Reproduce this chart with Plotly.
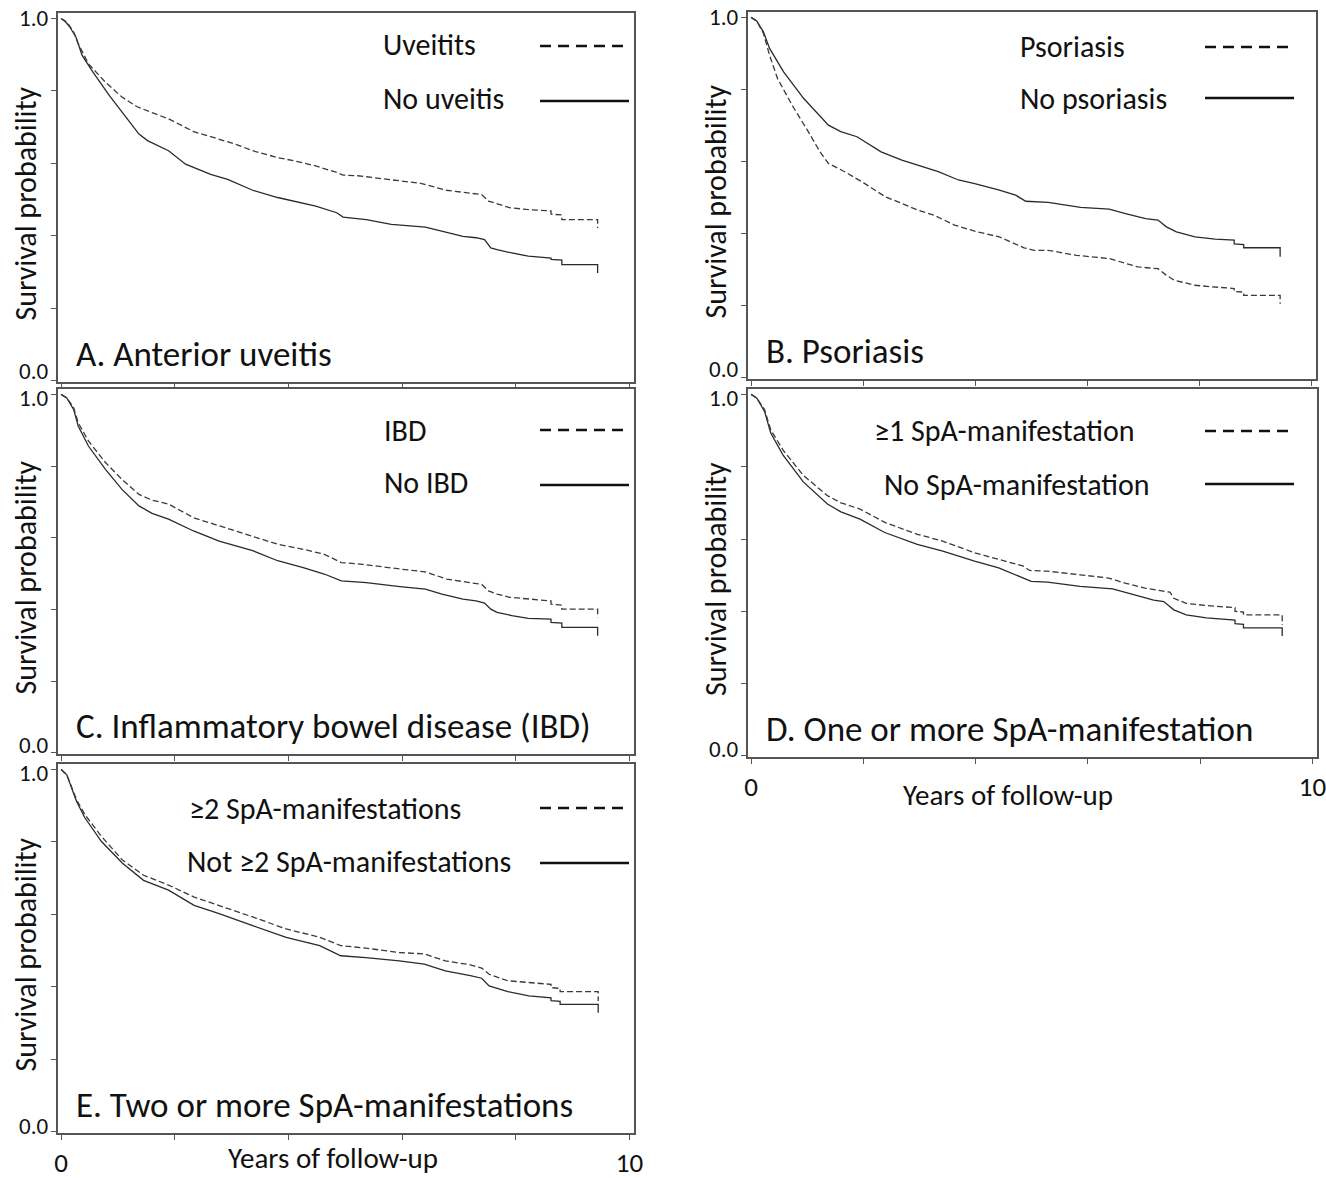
import plotly.graph_objects as go

# ---------------- data (years, survival probability) ----------------
# A. Anterior uveitis
a_uv_t = [0, 0.1, 0.22, 0.30, 0.48, 0.78, 1.07, 1.33, 1.6, 1.89, 2.33, 2.70, 3.07, 3.37, 3.81, 4.11, 4.48, 4.85, 4.96, 5.22,
          5.96, 6.33, 6.78, 7.22, 7.40, 7.52, 7.67, 7.89, 8.19, 8.62, 8.62, 8.81, 8.81, 9.44, 9.44]
a_uv_s = [1.0, 0.99, 0.963, 0.931, 0.875, 0.824, 0.783, 0.757, 0.74, 0.723, 0.688, 0.670, 0.653, 0.635, 0.616, 0.607, 0.593, 0.575, 0.568, 0.566,
          0.552, 0.545, 0.526, 0.518, 0.514, 0.496, 0.489, 0.478, 0.473, 0.469, 0.460, 0.458, 0.445, 0.445, 0.422]
a_no_t = [0, 0.08, 0.15, 0.26, 0.37, 0.56, 0.85, 1.15, 1.37, 1.52, 1.89, 2.19, 2.63, 2.93, 3.37, 3.81, 4.11, 4.48, 4.85, 4.96,
          5.37, 5.81, 6.41, 6.70, 7.07, 7.30, 7.45, 7.56, 7.67, 7.93, 8.22, 8.62, 8.62, 8.81, 8.81, 9.44, 9.44]
a_no_s = [1.0, 0.99, 0.977, 0.949, 0.898, 0.852, 0.787, 0.727, 0.681, 0.663, 0.635, 0.598, 0.570, 0.556, 0.526, 0.506, 0.496, 0.482, 0.464, 0.452,
          0.445, 0.432, 0.424, 0.413, 0.399, 0.395, 0.390, 0.367, 0.362, 0.353, 0.344, 0.339, 0.335, 0.333, 0.321, 0.321, 0.298]

# B. Psoriasis
b_ps_t = [0, 0.1, 0.22, 0.33, 0.47, 0.73, 1.02, 1.23, 1.38, 1.67, 2.03, 2.40, 2.69, 2.98, 3.27, 3.63, 3.99, 4.43, 4.87, 5.05,
          5.30, 5.81, 6.39, 6.68, 6.90, 7.26, 7.41, 7.55, 7.92, 8.21, 8.62, 8.62, 8.79, 8.79, 9.44, 9.44]
b_ps_s = [1.0, 0.99, 0.956, 0.895, 0.831, 0.757, 0.683, 0.627, 0.595, 0.572, 0.539, 0.502, 0.484, 0.465, 0.451, 0.424, 0.407, 0.391, 0.361, 0.354,
          0.354, 0.340, 0.331, 0.317, 0.308, 0.303, 0.285, 0.271, 0.257, 0.253, 0.248, 0.240, 0.238, 0.229, 0.229, 0.206]
b_no_t = [0, 0.1, 0.22, 0.33, 0.58, 0.94, 1.38, 1.60, 1.89, 2.32, 2.69, 2.98, 3.34, 3.70, 3.99, 4.43, 4.72, 4.90, 5.30, 5.88,
          6.39, 6.68, 7.04, 7.26, 7.41, 7.59, 7.92, 8.28, 8.62, 8.62, 8.79, 8.79, 9.44, 9.44]
b_no_s = [1.0, 0.99, 0.960, 0.914, 0.849, 0.775, 0.701, 0.683, 0.669, 0.627, 0.604, 0.590, 0.572, 0.549, 0.539, 0.521, 0.507, 0.490, 0.487, 0.473,
          0.468, 0.456, 0.442, 0.438, 0.419, 0.405, 0.391, 0.385, 0.382, 0.372, 0.370, 0.361, 0.361, 0.336]

# C. Inflammatory bowel disease
c_ibd_t = [0, 0.1, 0.22, 0.30, 0.48, 0.78, 1.07, 1.37, 1.6, 1.89, 2.33, 2.78, 3.37, 3.81, 4.26, 4.63, 4.93, 5.30, 5.96, 6.41,
           6.78, 7.22, 7.40, 7.52, 7.67, 7.89, 8.26, 8.62, 8.62, 8.81, 8.81, 9.44, 9.44]
c_ibd_s = [1.0, 0.99, 0.963, 0.921, 0.870, 0.810, 0.763, 0.721, 0.705, 0.694, 0.656, 0.633, 0.605, 0.582, 0.568, 0.554, 0.531, 0.526, 0.513, 0.505,
           0.485, 0.475, 0.470, 0.452, 0.443, 0.434, 0.429, 0.424, 0.415, 0.412, 0.401, 0.401, 0.378]
c_no_t = [0, 0.1, 0.22, 0.30, 0.48, 0.78, 1.07, 1.37, 1.6, 1.89, 2.33, 2.78, 3.37, 3.81, 4.26, 4.63, 4.93, 5.37, 5.96, 6.41,
          6.70, 7.07, 7.30, 7.45, 7.56, 7.67, 7.93, 8.22, 8.62, 8.62, 8.81, 8.81, 9.44, 9.44]
c_no_s = [1.0, 0.99, 0.958, 0.912, 0.856, 0.791, 0.735, 0.689, 0.668, 0.652, 0.619, 0.591, 0.564, 0.536, 0.517, 0.499, 0.480, 0.475, 0.464, 0.457,
          0.443, 0.429, 0.424, 0.418, 0.401, 0.392, 0.383, 0.375, 0.373, 0.364, 0.362, 0.350, 0.350, 0.327]

# D. One or more SpA-manifestation
d_one_t = [0, 0.1, 0.24, 0.35, 0.57, 0.93, 1.36, 1.6, 1.94, 2.38, 2.96, 3.40, 3.98, 4.41, 4.85, 4.96, 5.28, 5.86, 6.37, 6.66,
           7.02, 7.46, 7.53, 7.75, 8.11, 8.62, 8.62, 8.77, 8.77, 9.46, 9.46]
d_one_s = [1.0, 0.99, 0.958, 0.902, 0.846, 0.776, 0.720, 0.700, 0.683, 0.646, 0.613, 0.595, 0.562, 0.543, 0.525, 0.513, 0.511, 0.501, 0.492, 0.478,
           0.464, 0.453, 0.436, 0.422, 0.416, 0.410, 0.400, 0.398, 0.390, 0.390, 0.362]
d_no_t = [0, 0.1, 0.24, 0.35, 0.57, 0.93, 1.36, 1.6, 1.94, 2.38, 2.96, 3.40, 3.98, 4.41, 4.85, 4.99, 5.28, 5.86, 6.44, 6.73,
          7.17, 7.35, 7.53, 7.75, 8.11, 8.62, 8.62, 8.77, 8.77, 9.46, 9.46]
d_no_s = [1.0, 0.99, 0.953, 0.893, 0.832, 0.758, 0.697, 0.675, 0.655, 0.618, 0.585, 0.567, 0.539, 0.520, 0.492, 0.483, 0.481, 0.469, 0.462, 0.450,
          0.431, 0.427, 0.404, 0.390, 0.382, 0.376, 0.366, 0.364, 0.354, 0.354, 0.332]

# E. Two or more SpA-manifestations
e_two_t = [0, 0.1, 0.27, 0.42, 0.71, 1.08, 1.45, 1.89, 2.34, 2.78, 3.37, 3.96, 4.55, 4.92, 5.36, 5.95, 6.39, 6.76, 7.20, 7.40,
           7.53, 7.86, 8.23, 8.62, 8.62, 8.78, 8.78, 9.45, 9.45]
e_two_s = [1.0, 0.985, 0.917, 0.875, 0.815, 0.750, 0.708, 0.681, 0.648, 0.625, 0.593, 0.560, 0.537, 0.514, 0.507, 0.495, 0.491, 0.472, 0.461, 0.452,
           0.435, 0.417, 0.412, 0.407, 0.398, 0.396, 0.387, 0.387, 0.361]
e_no_t = [0, 0.1, 0.27, 0.42, 0.71, 1.08, 1.45, 1.89, 2.34, 2.78, 3.37, 3.96, 4.55, 4.92, 5.36, 5.95, 6.39, 6.76, 7.20, 7.40,
          7.53, 7.86, 8.23, 8.62, 8.62, 8.78, 8.78, 9.45, 9.45]
e_no_s = [1.0, 0.985, 0.912, 0.866, 0.801, 0.741, 0.694, 0.667, 0.625, 0.602, 0.569, 0.537, 0.514, 0.486, 0.481, 0.472, 0.463, 0.444, 0.431, 0.424,
          0.403, 0.387, 0.375, 0.370, 0.362, 0.360, 0.352, 0.352, 0.329]

# labels
panel_titles = ["A. Anterior uveitis", "B. Psoriasis", "C. Inflammatory bowel disease (IBD)",
                "D. One or more SpA-manifestation", "E. Two or more SpA-manifestations"]
dashed_names = ["Uveitits", "Psoriasis", "IBD", "≥1 SpA-manifestation", "≥2 SpA-manifestations"]
solid_names = ["No uveitis", "No psoriasis", "No IBD", "No SpA-manifestation", "Not ≥2 SpA-manifestations"]
y_tickvals = [0, 0.2, 0.4, 0.6, 0.8, 1.0]
y_label_vals = [0.0, 1.0]
y_label_text = ["0.0", "1.0"]
x_tickvals = [0, 2, 4, 6, 8, 10]
x_ticktext_bottom = ["0", "", "", "", "", "10"]
x_ticktext_none = ["", "", "", "", "", ""]
y_title = "Survival probability"
x_title = "Years of follow-up"

series = [(a_uv_t, a_uv_s, a_no_t, a_no_s), (b_ps_t, b_ps_s, b_no_t, b_no_s),
          (c_ibd_t, c_ibd_s, c_no_t, c_no_s), (d_one_t, d_one_s, d_no_t, d_no_s),
          (e_two_t, e_two_s, e_no_t, e_no_s)]

# ---------------- layout geometry (pixels) ----------------
W, H = 1326, 1178
FONT = "Carlito, Lato, sans-serif"
INK = "#111111"
CURVE = "#2a2a2a"
FRAME = "#555555"

# (left, right, top, bottom) frame in px
boxes = [(58, 634, 13, 382), (748, 1316, 12, 379), (58, 634, 389, 754),
         (748, 1317, 389, 757), (58, 634, 764, 1133)]
bottom_axis = [False, False, False, True, True]
zero_raise = [10, 9, 8, 7, 6]      # px the "0.0" label sits above its tick
one_lower = [0, 0, 4, 4, 4]        # px the "1.0" label sits below its tick
leg_text_x1 = [381, 1018, 382, 872, 187]
leg_text_x2 = [381, 1018, 382, 882, 185]
leg_y1 = [45, 47, 430, 431, 808]
leg_y2 = [99, 98, 483, 484, 861]
leg_line_y1 = [46, 47, 430, 431, 808]
leg_line_y2 = [101, 98, 485, 484, 863]
leg_line_x = [540, 1205, 540, 1205, 540]
xtitle_x = [None, None, None, 1008, 333]
xtitle_dy = [None, None, None, 38, 25]

SZ_TICK, SZ_YLAB, SZ_LEG, SZ_PANEL, SZ_YT, SZ_XT = 27, 23, 30, 35, 30, 29


def px(x):
    return x / W


def py(y):
    return 1 - y / H


fig = go.Figure()
layout = dict(width=W, height=H, margin=dict(l=0, r=0, t=0, b=0, autoexpand=False),
              paper_bgcolor="white", plot_bgcolor="white", showlegend=False,
              font=dict(family=FONT, color=INK))
annotations = []
shapes = []

for i, (box, (td, sd, ts, ss)) in enumerate(zip(boxes, series)):
    L, R, T, B = box
    n = "" if i == 0 else str(i + 1)
    xa, ya = "x" + n, "y" + n
    fig.add_trace(go.Scatter(x=ts, y=ss, mode="lines", xaxis=xa, yaxis=ya, name=solid_names[i],
                             line=dict(color=CURVE, width=1.3)))
    fig.add_trace(go.Scatter(x=td, y=sd, mode="lines", xaxis=xa, yaxis=ya, name=dashed_names[i],
                             line=dict(color="#3a3a3a", width=1.3, dash="6px,3px")))
    common = dict(showline=True, mirror=True, linecolor=FRAME, linewidth=1.5, ticks="outside",
                  ticklen=5, tickwidth=1.3, tickcolor=FRAME, showgrid=False, zeroline=False,
                  automargin=False, ticklabeloverflow="allow",
                  tickfont=dict(size=SZ_TICK, family=FONT, color=INK))
    layout["xaxis" + n] = dict(domain=[px(L), px(R)], range=[-0.055, 10.08], anchor=ya,
                               tickmode="array", tickvals=x_tickvals,
                               ticktext=x_ticktext_bottom if bottom_axis[i] else x_ticktext_none,
                               **common)
    layout["yaxis" + n] = dict(domain=[py(B), py(T)], range=[-0.003, 1.015], anchor=xa,
                               tickmode="array", tickvals=y_tickvals,
                               ticktext=[""] * len(y_tickvals), **common)

    # "0.0" / "1.0" labels, placed like the original (0.0 sits slightly above its tick)
    for v, txt in zip(y_label_vals, y_label_text):
        shift = zero_raise[i] if v == 0.0 else -one_lower[i]
        annotations.append(dict(x=px(L - 8), y=v, xref="paper", yref=ya, yshift=shift,
                                text=txt, showarrow=False, xanchor="right", yanchor="middle",
                                font=dict(size=SZ_YLAB, family=FONT, color=INK)))
    # y-axis title
    annotations.append(dict(x=px(L - 33), y=py((T + B) / 2 + 6), xref="paper", yref="paper",
                            text=y_title, textangle=-90, showarrow=False,
                            xanchor="center", yanchor="middle",
                            font=dict(size=SZ_YT, family=FONT, color=INK)))
    # panel title
    annotations.append(dict(x=px(L + 16), y=py(B - 28), xref="paper", yref="paper",
                            text=panel_titles[i], xanchor="left", yanchor="middle", showarrow=False,
                            font=dict(size=SZ_PANEL, family=FONT, color=INK)))
    # legend text + samples
    annotations.append(dict(x=px(leg_text_x1[i]), y=py(leg_y1[i]), xref="paper", yref="paper",
                            text=dashed_names[i], xanchor="left", yanchor="middle", showarrow=False,
                            font=dict(size=SZ_LEG, family=FONT, color=INK)))
    annotations.append(dict(x=px(leg_text_x2[i]), y=py(leg_y2[i]), xref="paper", yref="paper",
                            text=solid_names[i], xanchor="left", yanchor="middle", showarrow=False,
                            font=dict(size=SZ_LEG, family=FONT, color=INK)))
    lx = leg_line_x[i]
    shapes.append(dict(type="line", xref="paper", yref="paper", x0=px(lx), x1=px(lx + 85),
                       y0=py(leg_line_y1[i]), y1=py(leg_line_y1[i]),
                       line=dict(color=INK, width=2.5, dash="11px,7px")))
    shapes.append(dict(type="line", xref="paper", yref="paper", x0=px(lx), x1=px(lx + 89),
                       y0=py(leg_line_y2[i]), y1=py(leg_line_y2[i]), line=dict(color=INK, width=2.5)))
    if bottom_axis[i]:
        annotations.append(dict(x=px(xtitle_x[i]), y=py(B + xtitle_dy[i]), xref="paper", yref="paper",
                                text=x_title, xanchor="center", yanchor="middle", showarrow=False,
                                font=dict(size=SZ_XT, family=FONT, color=INK)))

layout["annotations"] = annotations
layout["shapes"] = shapes
fig.update_layout(**layout)
fig.write_html("out.html", config={"displayModeBar": False},
               post_script="document.body.style.margin='0px';document.body.style.padding='0px';"
                           "document.documentElement.style.overflow='hidden';")
